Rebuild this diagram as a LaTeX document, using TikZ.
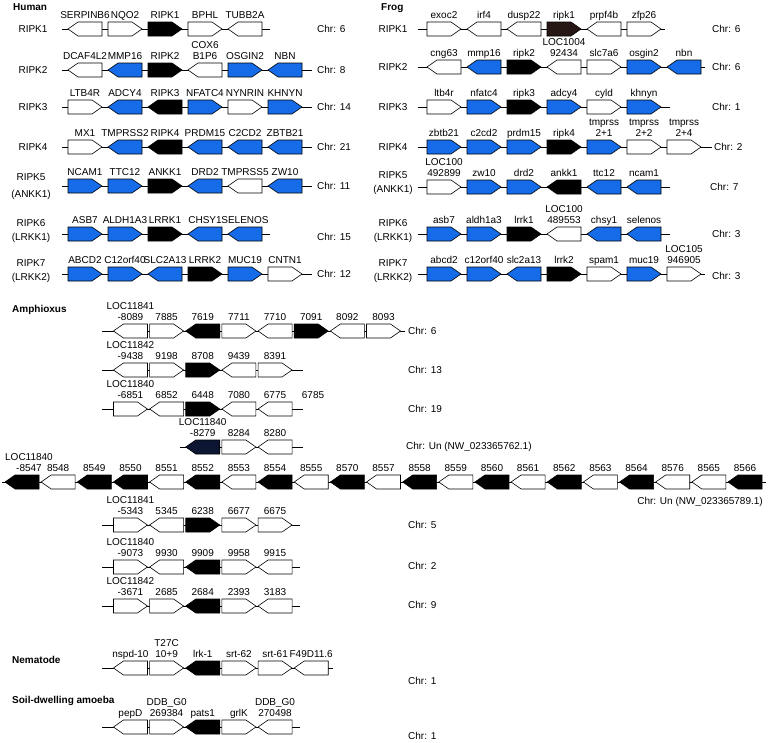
\documentclass[tikz,border=0pt]{standalone}
\usepackage{fontspec}
\setmainfont{Liberation Sans}

\definecolor{geneblue}{RGB}{22,108,232}
\definecolor{ripkbrown}{RGB}{38,22,20}
\definecolor{ripknavy}{RGB}{12,22,50}

\tikzset{
  backbone/.style={line width=0.8pt},
  gene/.pic={\draw[pic actions, line width=0.6pt] (-17,-7) -- (7,-7) -- (17,0) -- (7,7) -- (-17,7) -- cycle;},
  genetxt/.style={anchor=south, inner sep=0pt, text depth=0pt, align=center, font=\fontsize{10}{11}\selectfont},
  rowtxt/.style={align=center, inner sep=0pt, font=\fontsize{10}{14}\selectfont},
  chrtxt/.style={anchor=west, inner sep=0pt, font=\fontsize{10}{12}\selectfont},
  grouptxt/.style={anchor=base west, inner sep=0pt, font=\bfseries\fontsize{10}{12}\selectfont}
}

% one row of genes: name, y, line from, line to, first centre, step, genes (dir/fill/label)
\newcommand\generow[7]{%
  \coordinate (#1s) at (#3,#2);
  \coordinate (#1e) at (#4,#2);
  \draw[backbone] (#1s) -- (#1e);
  \foreach \gdir/\gcol/\gname [count=\ii from 0] in {#7}{
    \pic[fill=\gcol, xscale=\gdir] at ({#5+#6*\ii},#2) {gene};
    \node[genetxt] (#1-\ii) at ({#5+#6*\ii},#2-10) {\gname};
  }}

\begin{document}
\begin{tikzpicture}[x=1pt, y=-1pt]
  \useasboundingbox (0,0) rectangle (768,742);

  % Human
  \node[grouptxt] (human) at (13,10) {Human};
  \node[rowtxt] (hr1) at (33,29) {RIPK1};
  \node[rowtxt] (hr2) at (33,70) {RIPK2};
  \node[rowtxt] (hr3) at (33,107) {RIPK3};
  \node[rowtxt] (hr4) at (33,147) {RIPK4};
  \node[rowtxt] (hr5) at (31,187) {RIPK5\\[3pt](ANKK1)};
  \node[rowtxt] (hr6) at (31,231) {RIPK6\\(LRKK1)};
  \node[rowtxt] (hr7) at (31,271) {RIPK7\\(LRKK2)};

  \generow{h1}{29}{62}{270}{85}{40}{-1/white/SERPINB6, 1/white/NQO2, 1/black/RIPK1, 1/white/BPHL, -1/white/TUBB2A}
  \generow{h2}{70}{62}{312}{85}{40}{-1/white/DCAF4L2, -1/geneblue/MMP16, 1/black/RIPK2, -1/white/{COX6\\B1P6}, 1/geneblue/OSGIN2, -1/geneblue/NBN}
  \generow{h3}{107}{62}{312}{85}{40}{1/white/LTB4R, -1/geneblue/ADCY4, -1/black/RIPK3, 1/geneblue/NFATC4, 1/white/NYNRIN, 1/geneblue/KHNYN}
  \generow{h4}{147}{62}{312}{85}{40}{1/white/MX1, -1/geneblue/TMPRSS2, -1/black/RIPK4, -1/geneblue/PRDM15, -1/geneblue/C2CD2, -1/geneblue/ZBTB21}
  \generow{h5}{186}{62}{312}{85}{40}{1/geneblue/NCAM1, 1/geneblue/TTC12, 1/black/ANKK1, -1/geneblue/DRD2, -1/white/TMPRSS5, -1/geneblue/ZW10}
  \generow{h6}{234}{62}{270}{85}{40}{1/geneblue/ASB7, 1/geneblue/ALDH1A3, 1/black/LRRK1, -1/geneblue/CHSY1, -1/geneblue/SELENOS}
  \generow{h7}{274}{62}{312}{85}{40}{1/geneblue/ABCD2, 1/geneblue/C12orf40, -1/geneblue/SLC2A13, 1/black/LRRK2, 1/geneblue/MUC19, 1/white/CNTN1}

  \node[chrtxt] (hc1) at (317,29) {Chr: 6};
  \node[chrtxt] (hc2) at (317,70) {Chr: 8};
  \node[chrtxt] (hc3) at (317,107) {Chr: 14};
  \node[chrtxt] (hc4) at (317,147) {Chr: 21};
  \node[chrtxt] (hc5) at (317,186) {Chr: 11};
  \node[chrtxt] (hc6) at (317,237) {Chr: 15};
  \node[chrtxt] (hc7) at (317,274) {Chr: 12};

  % Frog
  \node[grouptxt] (frog) at (381,10) {Frog};
  \node[rowtxt] (fr1) at (393,29) {RIPK1};
  \node[rowtxt] (fr2) at (393,67) {RIPK2};
  \node[rowtxt] (fr3) at (393,107) {RIPK3};
  \node[rowtxt] (fr4) at (393,147) {RIPK4};
  \node[rowtxt] (fr5) at (393,183) {RIPK5\\(ANKK1)};
  \node[rowtxt] (fr6) at (393,231) {RIPK6\\(LRKK1)};
  \node[rowtxt] (fr7) at (393,271) {RIPK7\\(LRKK2)};

  \generow{f1}{29}{418}{665}{444}{40}{1/white/exoc2, -1/white/irf4, -1/white/dusp22, 1/ripkbrown/ripk1, -1/white/prpf4b, 1/white/zfp26}
  \generow{f2}{67}{418}{705}{444}{40}{-1/white/cng63, -1/geneblue/mmp16, 1/black/ripk2, -1/white/{LOC1004\\92434}, 1/white/slc7a6, 1/geneblue/osgin2, -1/geneblue/nbn}
  \generow{f3}{107}{418}{670}{444}{40}{1/white/ltb4r, 1/geneblue/nfatc4, 1/black/ripk3, 1/geneblue/adcy4, 1/white/cyld, 1/geneblue/khnyn}
  \generow{f4}{147}{418}{712}{444}{40}{1/geneblue/zbtb21, 1/geneblue/c2cd2, 1/geneblue/prdm15, 1/black/ripk4, 1/geneblue/{tmprss\\2+1}, 1/white/{tmprss\\2+2}, 1/white/{tmprss\\2+4}}
  \generow{f5}{187}{418}{670}{444}{40}{1/white/{LOC100\\492899}, 1/geneblue/zw10, 1/geneblue/drd2, -1/black/ankk1, -1/geneblue/ttc12, -1/geneblue/ncam1}
  \generow{f6}{234}{418}{670}{444}{40}{1/geneblue/asb7, 1/geneblue/aldh1a3, 1/black/lrrk1, -1/white/{LOC100\\489553}, -1/geneblue/chsy1, -1/geneblue/selenos}
  \generow{f7}{274}{418}{705}{444}{40}{1/geneblue/abcd2, 1/geneblue/c12orf40, -1/geneblue/slc2a13, 1/black/lrrk2, 1/white/spam1, 1/geneblue/muc19, 1/white/{LOC105\\946905}}

  \node[chrtxt] (fc1) at (712,29) {Chr: 6};
  \node[chrtxt] (fc2) at (712,67) {Chr: 6};
  \node[chrtxt] (fc3) at (712,107) {Chr: 1};
  \node[chrtxt] (fc4) at (714,147) {Chr: 2};
  \node[chrtxt] (fc5) at (710,187) {Chr: 7};
  \node[chrtxt] (fc6) at (712,234) {Chr: 3};
  \node[chrtxt] (fc7) at (712,276) {Chr: 3};

  % Amphioxus
  \node[grouptxt] (amphi) at (12,312) {Amphioxus};
  \generow{a1}{331}{102}{405}{130.45}{36.15}{-1/white/{LOC11841\\-8089}, 1/white/7885, -1/black/7619, 1/white/7711, -1/white/7710, 1/black/7091, -1/white/8092, 1/white/8093}
  \generow{a2}{370}{102}{303}{130.45}{36.15}{-1/white/{LOC11842\\-9438}, 1/white/9198, 1/black/8708, -1/white/9439, 1/white/8391}
  \generow{a3}{409}{102}{303}{130.45}{36.15}{1/white/{LOC11840\\-6851}, -1/white/6852, 1/black/6448, -1/white/7080, -1/white/6775}
  \node[genetxt] (a3-x) at (313,399) {6785};
  \generow{a4}{447}{180}{303}{202.75}{36.15}{-1/ripknavy/{LOC11840\\-8279}, 1/white/8284, -1/white/8280}
  \generow{a5}{482}{2}{766}{22}{36.15}{-1/black/{\hspace*{14pt}LOC11840\\\hspace*{14pt}-8547}, -1/white/8548, -1/black/8549, -1/black/8550, -1/white/8551, -1/black/8552, -1/white/8553, -1/black/8554, -1/white/8555, -1/black/8570, -1/white/8557, -1/black/8558, -1/white/8559, -1/black/8560, -1/white/8561, -1/black/8562, -1/white/8563, -1/black/8564, -1/white/8576, -1/white/8565, -1/black/8566}
  \generow{a6}{525}{102}{300}{130.45}{36.15}{1/white/{LOC11841\\-5343}, -1/white/5345, 1/black/6238, 1/white/6677, 1/white/6675}
  \generow{a7}{567}{102}{300}{130.45}{36.15}{1/white/{LOC11840\\-9073}, -1/white/9930, -1/black/9909, 1/white/9958, -1/white/9915}
  \generow{a8}{606}{102}{300}{130.45}{36.15}{1/white/{LOC11842\\-3671}, 1/white/2685, -1/black/2684, 1/white/2393, -1/white/3183}

  \node[chrtxt] (ac1) at (408,331) {Chr: 6};
  \node[chrtxt] (ac2) at (408,370) {Chr: 13};
  \node[chrtxt] (ac3) at (408,409) {Chr: 19};
  \node[chrtxt] (ac4) at (406,447) {Chr: Un (NW\_023365762.1)};
  \node[chrtxt, anchor=east] (ac5) at (763,502) {Chr: Un (NW\_023365789.1)};
  \node[chrtxt] (ac6) at (408,525) {Chr: 5};
  \node[chrtxt] (ac7) at (408,566) {Chr: 2};
  \node[chrtxt] (ac8) at (408,605) {Chr: 9};

  % Nematode
  \node[grouptxt] (nema) at (12,663) {Nematode};
  \generow{n1}{668}{102}{333}{130.45}{36.15}{-1/white/nspd-10, 1/white/{T27C\\10+9}, -1/black/lrk-1, 1/white/srt-62, 1/white/srt-61, -1/white/F49D11.6}
  \node[chrtxt] (nc1) at (408,681) {Chr: 1};

  % Soil-dwelling amoeba
  \node[grouptxt] (amoeba) at (12,703) {Soil-dwelling amoeba};
  \generow{d1}{727}{102}{300}{130.45}{36.15}{-1/white/pepD, 1/white/{DDB\_G0\\269384}, -1/black/pats1, 1/white/grlK, -1/white/{DDB\_G0\\270498}}
  \node[chrtxt] (dc1) at (408,736) {Chr: 1};
\end{tikzpicture}
\end{document}
